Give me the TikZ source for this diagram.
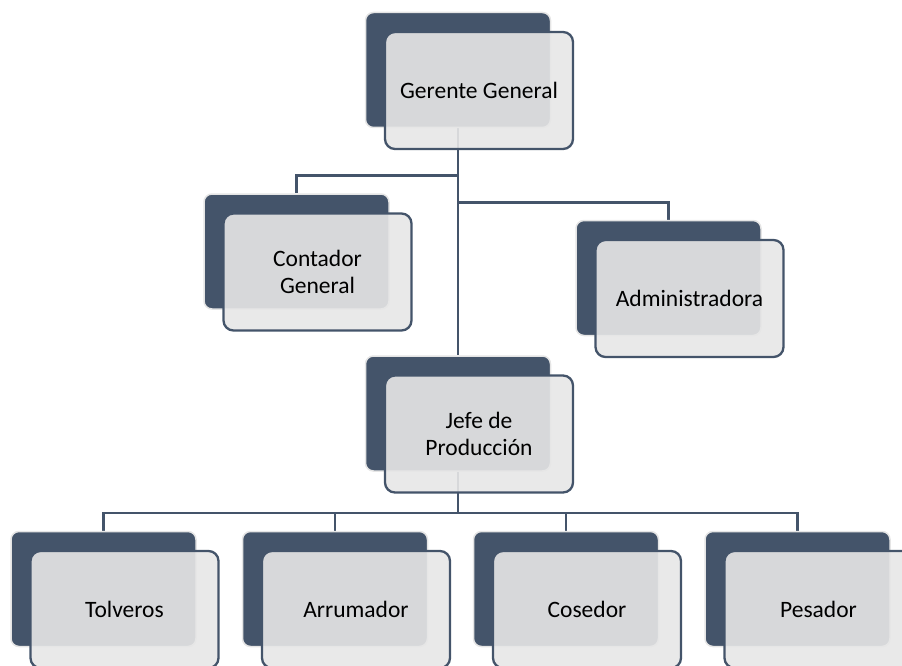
\documentclass[tikz,border=0pt]{standalone}
\usepackage{fontspec}
\setmainfont{Carlito}
\usetikzlibrary{positioning,backgrounds}
\definecolor{azul}{HTML}{44546A}
\definecolor{claro}{HTML}{E7E7E7}
\begin{document}
\begin{tikzpicture}[x=1pt,y=-1pt]
        \tikzstyle{every node}+=[inner sep=0pt]
        \tikzstyle{fondo}=[draw=black!10,line width=1.5pt,fill=azul,rounded corners=8pt,minimum width=185pt,minimum height=115pt]
        \tikzstyle{caja}=[draw=azul,line width=2.3pt,fill=claro,fill opacity=0.9,text opacity=1,rounded corners=10pt,minimum width=188pt,minimum height=117pt,align=center,font=\fontsize{23.5}{27.5}\selectfont]
        \tikzstyle{linea}=[draw=azul,line width=2.5pt]
        \clip (0,0) rectangle (902,666);
        \node[fondo] (gerente-b) at (458,70) {};
        \node[caja] (gerente) at ([shift={(21,20.5)}]gerente-b.center) {Gerente General};
        \node[fondo] (contador-b) at (296.5,251.5) {};
        \node[caja] (contador) at ([shift={(21,20.5)}]contador-b.center) {Contador\\General};
        \node[fondo] (admin-b) at (668.5,278) {};
        \node[caja] (admin) at ([shift={(21,20.5)}]admin-b.center) {Administradora};
        \node[fondo] (jefe-b) at (458,413.5) {};
        \node[caja] (jefe) at ([shift={(21,20.5)}]jefe-b.center) {Jefe de\\Producción};
        \node[fondo] (tolveros-b) at (103.5,589) {};
        \node[caja] (tolveros) at ([shift={(21,20.5)}]tolveros-b.center) {Tolveros};
        \node[fondo] (arrumador-b) at (335,589) {};
        \node[caja] (arrumador) at ([shift={(21,20.5)}]arrumador-b.center) {Arrumador};
        \node[fondo] (cosedor-b) at (566,589) {};
        \node[caja] (cosedor) at ([shift={(21,20.5)}]cosedor-b.center) {Cosedor};
        \node[fondo] (pesador-b) at (797.5,589) {};
        \node[caja] (pesador) at ([shift={(21,20.5)}]pesador-b.center) {Pesador};
        \begin{scope}[on background layer]
        \draw [linea] (gerente-b.south) -- (jefe-b.north);
        \draw [linea] (gerente-b.south) ++(0,47) -| (contador-b.north);
        \draw [linea] (gerente-b.south) ++(0,74) -| (admin-b.north);
        \draw [linea] (jefe-b.south) -- ++(0,41);
        \draw [linea] (jefe-b.south) ++(0,41) -| (tolveros-b.north);
        \draw [linea] (jefe-b.south) ++(0,41) -| (arrumador-b.north);
        \draw [linea] (jefe-b.south) ++(0,41) -| (cosedor-b.north);
        \draw [linea] (jefe-b.south) ++(0,41) -| (pesador-b.north);
        \end{scope}
\end{tikzpicture}
\end{document}
